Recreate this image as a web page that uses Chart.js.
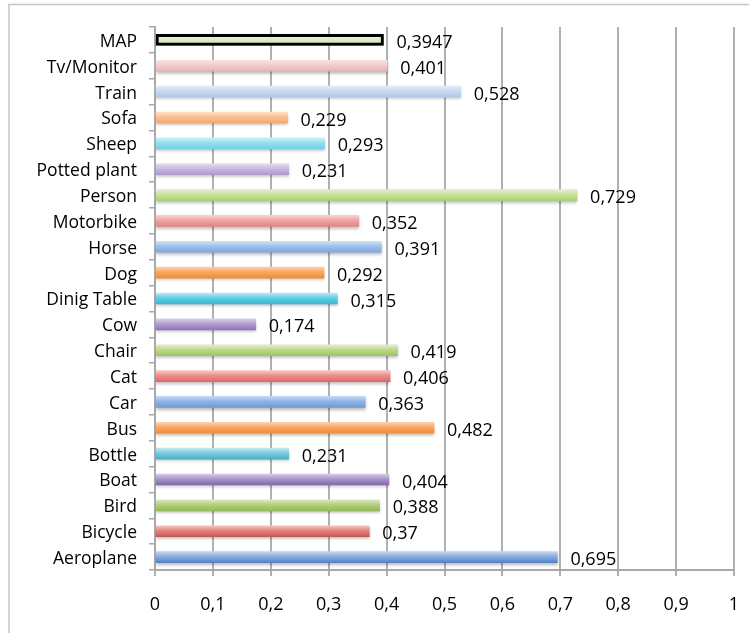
<!DOCTYPE html>
<html>
<head>
<meta charset="utf-8">
<script src="https://cdn.jsdelivr.net/npm/chart.js@4/dist/chart.umd.min.js"></script>
<style>
html,body{margin:0;padding:0;background:#fff;}
canvas{display:block;}
</style>
</head>
<body>
<canvas id="c" width="749" height="633"></canvas>
<script>
// Categories, top to bottom as in the picture
const categories = ['MAP','Tv/Monitor','Train','Sofa','Sheep','Potted plant','Person','Motorbike','Horse','Dog','Dinig Table','Cow','Chair','Cat','Car','Bus','Bottle','Boat','Bird','Bicycle','Aeroplane'];
const values = [0.3947,0.401,0.528,0.229,0.293,0.231,0.729,0.352,0.391,0.292,0.315,0.174,0.419,0.406,0.363,0.482,0.231,0.404,0.388,0.37,0.695];
const xTicks = [0,0.1,0.2,0.3,0.4,0.5,0.6,0.7,0.8,0.9,1];

// styles
const topColors = ['#eef5e3','#fae3e3','#e2ebf8','#fde0c8','#c9f0f8','#e3dcef','#e2efcf','#f8cfcf','#cfe0f6','#fdd0a5','#b8ebf6','#d9cfe8','#e3efc9','#f8c8c6','#c5daf4','#fcd2ad','#bfe6f0','#d5cae4','#dbe8c2','#f3c6c4','#c4d7ee'];
const midColors = ['#dfecc8','#f4cccd','#c9daf2','#fbc194','#93dff0','#c8b9e0','#c8e29c','#f0a4a3','#9fc0eb','#faa65c','#5fcde6','#b39fd1','#bcd98a','#ec8f8c','#8fb4e6','#f9a866','#7ccbe0','#a995c9','#b2cf7c','#e28380','#8bade0'];
const botColors = ['#cfe0b4','#e8b4b5','#b0c7e8','#f3a972','#75cfe4','#ae9ccd','#acce78','#e08684','#7ea8e0','#f08d3c','#3bb6d3','#9076bb','#9dc563','#dc6a66','#6e9bd6','#ef8a3a','#4aaec8','#8368a8','#94b857','#c45754','#5583c2'];
const borderWidths = [3,0,0,0,0,0,0,0,0,0,0,0,0,0,0,0,0,0,0,0,0];

const FAMILY = "'Open Sans', sans-serif";
const CAT_FONT = {family: FAMILY, size: 17.5};
const NUM_FONT = {family: FAMILY, size: 18};
const fmt = v => String(Math.round(v * 10000) / 10000).replace('.', ',');

const framePlugin = {
  id: 'frame',
  beforeDraw(chart) {
    const c = chart.ctx;
    c.save();
    c.strokeStyle = '#c4c4c4';
    c.lineWidth = 1.5;
    c.beginPath();
    c.moveTo(9, 640); c.lineTo(9, 4.5); c.lineTo(760, 4.5);
    c.stroke();
    c.restore();
  }
};

const shadowPlugin = {
  id: 'barShadow',
  beforeDatasetsDraw(chart) {
    const c = chart.ctx;
    c.save();
    c.shadowColor = 'rgba(0,0,0,0.28)';
    c.shadowBlur = 3;
    c.shadowOffsetY = 2;
  },
  afterDatasetsDraw(chart) {
    chart.ctx.restore();
  }
};

const labelPlugin = {
  id: 'valueLabels',
  afterDatasetsDraw(chart) {
    const c = chart.ctx;
    const meta = chart.getDatasetMeta(0);
    c.save();
    c.font = NUM_FONT.size + 'px ' + NUM_FONT.family;
    c.fillStyle = '#000';
    c.textAlign = 'left';
    c.textBaseline = 'middle';
    meta.data.forEach((el, i) => {
      c.fillText(fmt(values[i]), el.x + 13, el.y + 3);
    });
    c.restore();
  }
};

function grad(ctx) {
  const chart = ctx.chart;
  const i = ctx.dataIndex;
  const ys = chart.scales.y;
  if (!ys || !chart.chartArea || i === undefined) return midColors[i] || '#ccc';
  const yc = ys.getPixelForValue(i);
  const g = chart.ctx.createLinearGradient(0, yc - 5.5, 0, yc + 5.5);
  g.addColorStop(0, topColors[i]);
  g.addColorStop(0.45, midColors[i]);
  g.addColorStop(1, botColors[i]);
  return g;
}

new Chart(document.getElementById('c'), {
  type: 'bar',
  data: {
    labels: categories,
    datasets: [{
      data: values,
      backgroundColor: grad,
      borderColor: '#000',
      borderWidth: borderWidths,
      borderSkipped: false,
      barThickness: 11
    }]
  },
  options: {
    indexAxis: 'y',
    responsive: false,
    animation: false,
    devicePixelRatio: 1,
    layout: {padding: {left: 0, top: 27, right: 15, bottom: 0}},
    plugins: {legend: {display: false}, tooltip: {enabled: false}},
    scales: {
      y: {
        type: 'category',
        grid: {offset: true, drawOnChartArea: false, tickLength: 6, color: '#a8a8a8', lineWidth: 1.5},
        border: {color: '#a8a8a8', width: 2},
        ticks: {color: '#000', font: CAT_FONT, padding: 12, autoSkip: false, labelOffset: 2},
        afterFit(s) { s.width = 155; s.paddingTop = 0; s.paddingBottom = 0; }
      },
      x: {
        type: 'linear',
        min: 0, max: 1,
        afterBuildTicks(s) { s.ticks = xTicks.map(v => ({value: v})); },
        grid: {color: '#b0b0b0', lineWidth: 2, tickLength: 6},
        border: {color: '#a8a8a8', width: 2},
        ticks: {color: '#000', font: NUM_FONT, padding: 18, maxRotation: 0,
          callback: v => String(Math.round(v * 10) / 10).replace('.', ',')},
        afterFit(s) { s.height = 63; s.paddingLeft = 0; s.paddingRight = 0; }
      }
    }
  },
  plugins: [framePlugin, shadowPlugin, labelPlugin]
});
</script>
</body>
</html>
